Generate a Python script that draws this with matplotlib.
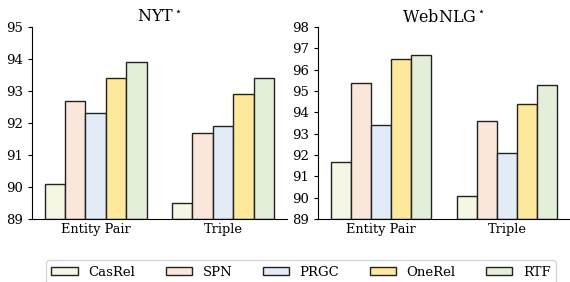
import numpy as np
import matplotlib.pyplot as plt
from matplotlib.patches import Patch

plt.rcParams['font.family'] = 'DejaVu Serif'

models = ['CasRel', 'SPN', 'PRGC', 'OneRel', 'RTF']
groups = ['Entity Pair', 'Triple']
colors = ['#f6f6e4', '#fae6da', '#e2ebf6', '#fde89b', '#e3efd9']

# scores per model, [Entity Pair, Triple]
nyt = [[90.1, 89.5], [92.7, 91.7], [92.3, 91.9], [93.4, 92.9], [93.9, 93.4]]
webnlg = [[91.7, 90.1], [95.4, 93.6], [93.4, 92.1], [96.5, 94.4], [96.7, 95.3]]

fig = plt.figure(figsize=(5.7, 2.82), dpi=100)
ax1 = fig.add_axes([0.056, 0.223, 0.447, 0.681])
ax2 = fig.add_axes([0.558, 0.223, 0.442, 0.681])

def draw(ax, data, title, ylim):
    x = np.arange(len(groups))
    w = 0.16
    for i, (vals, c) in enumerate(zip(data, colors)):
        ax.bar(x + (i - 2) * w, np.array(vals) - ylim[0], w, bottom=ylim[0],
               color=c, edgecolor='#222222', linewidth=1.0)
    ax.set_xlim(-0.5, 1.5)
    ax.set_ylim(*ylim)
    ax.set_yticks(range(ylim[0], ylim[1] + 1))
    ax.set_xticks(x)
    ax.set_xticklabels(groups)
    ax.tick_params(axis='x', length=0, labelsize=9.3, pad=3)
    ax.tick_params(axis='y', labelsize=9.5, length=3)
    ax.spines['top'].set_visible(False)
    ax.spines['right'].set_visible(False)
    ax.set_title(title, fontsize=11.5, pad=4)

draw(ax1, nyt, r'NYT$^\star$', (89, 95))
draw(ax2, webnlg, r'WebNLG$^\star$', (89, 98))

handles = [Patch(facecolor=c, edgecolor='#222222', label=m) for m, c in zip(models, colors)]
fig.legend(handles=handles, loc='lower center', bbox_to_anchor=(0.528, -0.03), ncol=5,
           fontsize=9.5, handlelength=2.0, handleheight=0.6, handletextpad=0.8,
           columnspacing=2.3, frameon=True, fancybox=True)

fig.savefig('out.png', dpi=100)
